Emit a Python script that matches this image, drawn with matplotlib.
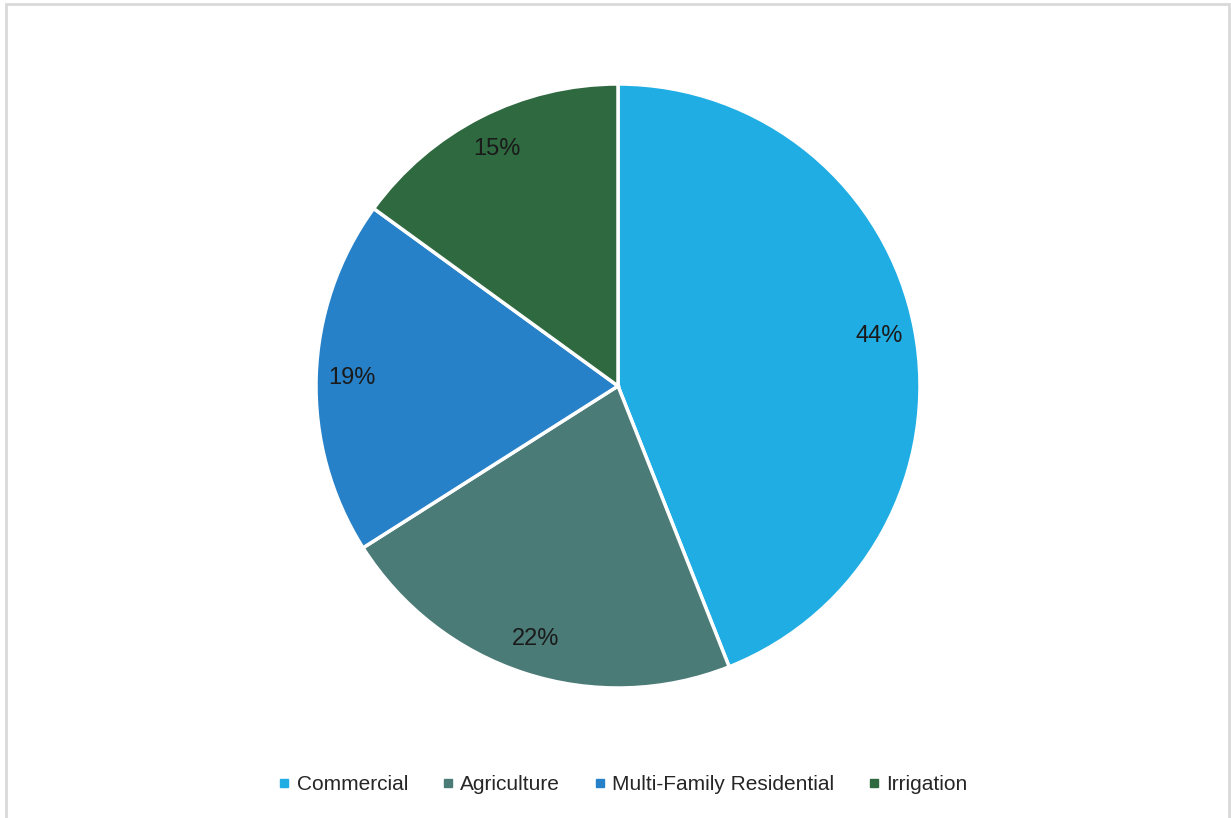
import matplotlib.pyplot as plt
from matplotlib.lines import Line2D
from matplotlib.patches import Rectangle

plt.rcParams['font.family'] = ['Liberation Sans', 'DejaVu Sans']

categories = ['Commercial', 'Agriculture', 'Multi-Family Residential', 'Irrigation']
shares = [44, 22, 19, 15]
colors = ['#1fade4', '#4a7b77', '#2781c8', '#2e6940']

W, H = 1231, 818
fig = plt.figure(figsize=(W / 100, H / 100), dpi=100)

# light grey frame (bottom edge cut off in the original)
fig.add_artist(Rectangle((6 / W, -0.05), 1223 / W, 1.05 - 4 / H, transform=fig.transFigure,
                         fill=False, edgecolor='#d9d9d9', linewidth=2))

ax = fig.add_axes([316 / W, 130 / H, 604 / W, 604 / H])
wedges, texts, autotexts = ax.pie(shares, colors=colors, startangle=90, counterclock=False,
                                  autopct='%d%%', pctdistance=0.88,
                                  wedgeprops=dict(edgecolor='white', linewidth=2.5),
                                  textprops=dict(fontsize=17, color='#1a1a1a'))
ax.set_xlim(-1, 1)
ax.set_ylim(-1, 1)
ax.set_aspect('equal')

handles = [Line2D([], [], marker='s', linestyle='none', markersize=6, color=c) for c in colors]
fig.legend(handles, categories, loc='center', bbox_to_anchor=(622 / W, 1 - 785 / H),
           ncol=4, frameon=False, fontsize=15, handletextpad=0.2, columnspacing=1.5,
           handlelength=0.8, labelcolor='#262626')

fig.savefig('out.png', dpi=100)
